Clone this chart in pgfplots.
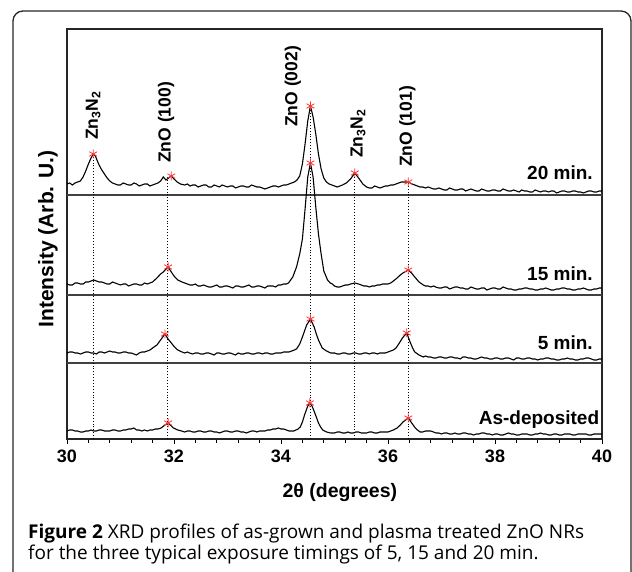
\documentclass[border=0pt]{standalone}
\usepackage{fontspec}
\setmainfont{Liberation Sans}
\newfontfamily\capfont{Open Sans}
\usepackage{pgfplots}
\pgfplotsset{compat=1.18}
\begin{document}
\begin{tikzpicture}
\useasboundingbox (0pt,0pt) rectangle (632pt,572pt);
\draw[rounded corners=10pt, line width=1.3pt, black!85] (13pt,-20pt) rectangle (631pt,561pt);
\begin{axis}[
  at={(67pt,133pt)}, anchor=south west,
  scale only axis, width=535pt, height=410pt,
  xmin=30, xmax=40, ymin=0, ymax=410,
  axis line style={line width=1.3pt, black!85},
  xtick={30,32,34,36,38,40}, minor x tick num=4,
  ytick=\empty,
  xtick pos=bottom, tick align=outside,
  major tick length=5pt, minor tick length=4pt,
  every tick/.style={black, line width=1pt},
  xticklabel style={font=\fontsize{18}{18}\selectfont\bfseries, yshift=-2pt},
  /pgf/number format/assume math mode=true,
  xlabel={2θ (degrees)},
  xlabel style={font=\fontsize{19.5}{20}\selectfont\bfseries, at={(axis description cs:0.51,-0.1317)}, anchor=center},
  ylabel={Intensity (Arb. U.)},
  ylabel style={font=\fontsize{21}{21}\selectfont\bfseries, at={(axis description cs:-0.0355,0.488)}, anchor=center},
  clip=false,
]
% panel dividers
\addplot[line width=1.8pt, black!75, forget plot] coordinates {(30,244) (40,244)};
\addplot[line width=1.8pt, black!75, forget plot] coordinates {(30,144) (40,144)};
\addplot[line width=1.8pt, black!75, forget plot] coordinates {(30,76) (40,76)};
% dotted reference lines
\addplot[dotted, line width=0.9pt, black] coordinates {(30.5,0) (30.5,285)};
\addplot[dotted, line width=0.9pt, black] coordinates {(31.88,0) (31.88,263)};
\addplot[dotted, line width=0.9pt, black] coordinates {(34.55,0) (34.55,333)};
\addplot[dotted, line width=0.9pt, black] coordinates {(35.38,0) (35.38,266)};
\addplot[dotted, line width=0.9pt, black] coordinates {(36.38,0) (36.38,257)};
% 20 min
\addplot[black, line width=1.1pt] coordinates {
(30.0,255)(30.05,256)(30.1,254)(30.15,256)(30.2,257)(30.25,258)(30.3,262)(30.35,268)(30.4,275)(30.45,281)(30.49,285)(30.53,283)(30.56,279)(30.6,274)(30.65,269)(30.7,265)(30.75,261)(30.8,258)(30.85,256)(30.9,255)(30.95,254)(31.0,254)(31.05,256)(31.1,255)(31.15,254)(31.2,254)(31.25,256)(31.3,255)(31.35,253)(31.4,254)(31.45,255)(31.5,255)(31.55,253)(31.6,254)(31.65,255)(31.7,256)(31.75,258)(31.8,262)(31.85,259)(31.9,261)(31.95,263)(32.0,260)(32.06,257)(32.12,255)(32.2,254)(32.25,255)(32.3,253)(32.35,254)(32.4,254)(32.45,252)(32.5,253)(32.55,254)(32.6,254)(32.65,252)(32.7,252)(32.75,254)(32.8,253)(32.85,252)(32.9,254)(32.95,253)(33.0,252)(33.05,253)(33.1,253)(33.15,251)(33.2,252)(33.25,253)(33.3,253)(33.35,252)(33.4,252)(33.45,254)(33.5,253)(33.55,252)(33.6,252)(33.65,251)(33.7,250)(33.75,251)(33.8,252)(33.85,253)(33.9,253)(33.95,252)(34.0,253)(34.05,254)(34.1,254)(34.15,255)(34.2,256)(34.25,257)(34.3,259)(34.35,263)(34.4,275)(34.45,295)(34.5,318)(34.55,333)(34.6,322)(34.65,305)(34.7,285)(34.75,270)(34.8,261)(34.85,257)(34.9,255)(34.95,254)(35.0,253)(35.05,252)(35.1,253)(35.15,254)(35.22,256)(35.3,260)(35.38,266)(35.45,261)(35.53,255)(35.6,252)(35.65,251)(35.7,251)(35.75,253)(35.8,252)(35.85,251)(35.9,252)(35.95,253)(36.0,253)(36.05,254)(36.1,254)(36.15,255)(36.2,256)(36.25,257)(36.3,257)(36.38,257)(36.45,255)(36.5,254)(36.55,253)(36.6,252)(36.65,252)(36.7,251)(36.75,252)(36.8,251)(36.85,250)(36.9,250)(36.95,251)(37.0,250)(37.05,249)(37.1,249)(37.15,251)(37.2,250)(37.25,249)(37.3,249)(37.35,250)(37.4,250)(37.45,248)(37.5,249)(37.55,250)(37.6,249)(37.65,248)(37.7,248)(37.75,250)(37.8,249)(37.85,248)(37.9,248)(37.95,249)(38.0,249)(38.05,248)(38.1,248)(38.15,250)(38.2,249)(38.25,248)(38.3,248)(38.35,249)(38.4,248)(38.45,247)(38.5,249)(38.55,248)(38.6,248)(38.65,247)(38.7,247)(38.75,249)(38.8,248)(38.85,247)(38.9,248)(38.95,248)(39.0,247)(39.05,248)(39.1,248)(39.15,246)(39.2,247)(39.25,248)(39.3,248)(39.35,247)(39.4,247)(39.45,248)(39.5,248)(39.55,247)(39.6,247)(39.65,246)(39.7,247)(39.75,248)(39.8,248)(39.85,247)(39.9,247)(39.95,248)(40.0,248)
};
% 15 min
\addplot[black, line width=1.1pt] coordinates {
(30.0,155)(30.05,154)(30.1,154)(30.15,156)(30.2,156)(30.25,155)(30.3,155)(30.35,157)(30.4,157)(30.45,158)(30.5,159)(30.55,158)(30.6,157)(30.65,157)(30.7,156)(30.75,155)(30.8,155)(30.85,157)(30.9,156)(30.95,155)(31.0,154)(31.05,155)(31.1,155)(31.15,153)(31.2,154)(31.25,155)(31.3,155)(31.35,154)(31.4,154)(31.45,156)(31.5,155)(31.55,156)(31.6,157)(31.68,161)(31.75,165)(31.8,167)(31.85,170)(31.89,172)(31.95,167)(32.0,163)(32.07,159)(32.15,157)(32.2,156)(32.25,155)(32.3,154)(32.35,154)(32.4,155)(32.45,153)(32.5,153)(32.55,154)(32.6,153)(32.65,152)(32.7,152)(32.75,153)(32.8,154)(32.85,152)(32.9,152)(32.95,153)(33.0,153)(33.05,152)(33.1,151)(33.15,153)(33.2,153)(33.25,152)(33.3,152)(33.35,153)(33.4,154)(33.45,152)(33.5,152)(33.55,153)(33.6,153)(33.65,152)(33.7,151)(33.75,153)(33.8,153)(33.85,153)(33.9,152)(33.95,154)(34.0,154)(34.05,155)(34.1,155)(34.14,156)(34.22,162)(34.29,172)(34.35,185)(34.4,200)(34.45,230)(34.5,262)(34.55,276)(34.6,262)(34.65,232)(34.7,205)(34.75,185)(34.8,168)(34.87,159)(34.92,156)(34.96,155)(35.0,153)(35.05,152)(35.1,152)(35.15,153)(35.2,154)(35.25,154)(35.3,155)(35.38,156)(35.45,155)(35.5,154)(35.55,153)(35.6,153)(35.65,152)(35.7,153)(35.75,153)(35.8,154)(35.85,154)(35.9,155)(35.95,155)(36.0,155)(36.05,156)(36.1,158)(36.17,161)(36.23,164)(36.28,166)(36.38,169)(36.44,166)(36.5,162)(36.58,157)(36.66,154)(36.7,153)(36.75,153)(36.8,152)(36.85,153)(36.89,152)(36.95,151)(37.0,151)(37.05,152)(37.1,152)(37.15,150)(37.2,151)(37.25,152)(37.3,152)(37.35,151)(37.4,151)(37.45,150)(37.5,150)(37.55,152)(37.6,151)(37.65,150)(37.7,150)(37.75,151)(37.8,151)(37.85,149)(37.9,150)(37.95,151)(38.0,151)(38.05,150)(38.1,150)(38.15,152)(38.2,151)(38.25,150)(38.3,150)(38.35,149)(38.4,149)(38.45,150)(38.5,150)(38.55,151)(38.6,151)(38.65,150)(38.7,150)(38.75,149)(38.8,149)(38.85,150)(38.9,150)(38.95,151)(39.0,150)(39.05,149)(39.1,149)(39.15,150)(39.2,150)(39.25,151)(39.3,151)(39.35,150)(39.4,150)(39.45,149)(39.5,149)(39.55,150)(39.6,150)(39.65,151)(39.7,150)(39.75,149)(39.8,149)(39.85,150)(39.9,150)(39.95,151)(40.0,151)
};
% 5 min
\addplot[black, line width=1.1pt] coordinates {
(30.0,86)(30.05,87)(30.1,87)(30.15,86)(30.2,86)(30.25,85)(30.3,86)(30.35,87)(30.4,87)(30.45,86)(30.5,86)(30.55,85)(30.6,87)(30.65,87)(30.7,86)(30.75,87)(30.8,88)(30.85,87)(30.9,87)(30.95,86)(31.0,86)(31.05,87)(31.1,87)(31.15,86)(31.2,86)(31.25,85)(31.3,84)(31.35,86)(31.4,87)(31.45,87)(31.5,88)(31.55,89)(31.6,91)(31.68,94)(31.75,99)(31.83,105)(31.89,100)(31.95,96)(32.01,92)(32.07,89)(32.15,87)(32.2,86)(32.25,87)(32.29,86)(32.35,85)(32.4,86)(32.45,86)(32.5,85)(32.55,85)(32.6,86)(32.65,86)(32.7,85)(32.75,84)(32.8,86)(32.85,86)(32.9,85)(32.95,85)(33.0,86)(33.05,86)(33.1,85)(33.15,84)(33.2,86)(33.25,85)(33.3,85)(33.35,86)(33.4,86)(33.45,85)(33.5,85)(33.55,86)(33.6,86)(33.65,85)(33.7,86)(33.75,86)(33.8,85)(33.85,85)(33.9,86)(33.95,86)(34.0,86)(34.05,87)(34.1,87)(34.15,87)(34.2,88)(34.25,89)(34.29,90)(34.35,95)(34.4,102)(34.44,108)(34.48,114)(34.55,120)(34.62,112)(34.66,105)(34.7,99)(34.77,91)(34.85,88)(34.93,86)(35.0,86)(35.05,85)(35.1,85)(35.15,86)(35.2,86)(35.25,85)(35.3,85)(35.35,86)(35.4,86)(35.45,85)(35.5,85)(35.55,86)(35.6,86)(35.65,85)(35.7,86)(35.75,86)(35.8,85)(35.85,86)(35.9,86)(35.95,86)(36.0,87)(36.05,88)(36.1,89)(36.15,91)(36.2,95)(36.27,101)(36.35,106)(36.42,96)(36.46,91)(36.5,87)(36.58,84)(36.66,82)(36.7,83)(36.75,82)(36.8,82)(36.85,81)(36.9,81)(36.95,82)(37.0,82)(37.05,81)(37.1,81)(37.15,82)(37.2,82)(37.25,81)(37.3,81)(37.35,80)(37.4,82)(37.45,82)(37.5,81)(37.55,81)(37.6,80)(37.65,80)(37.7,81)(37.75,82)(37.8,81)(37.85,81)(37.9,80)(37.95,80)(38.0,81)(38.05,81)(38.1,80)(38.15,80)(38.2,81)(38.25,81)(38.3,80)(38.35,79)(38.4,81)(38.45,81)(38.5,80)(38.55,80)(38.6,81)(38.65,81)(38.7,80)(38.75,80)(38.8,79)(38.85,80)(38.9,80)(38.95,81)(39.0,81)(39.05,80)(39.1,80)(39.15,79)(39.2,79)(39.25,80)(39.3,80)(39.35,81)(39.4,80)(39.45,80)(39.5,79)(39.55,79)(39.6,80)(39.65,80)(39.7,81)(39.75,81)(39.8,80)(39.85,79)(39.9,79)(39.95,80)(40.0,80)
};
% As-deposited
\addplot[black, line width=1.1pt] coordinates {
(30.0,8)(30.05,9)(30.1,9)(30.15,8)(30.2,8)(30.25,7)(30.3,7)(30.35,8)(30.4,8)(30.45,9)(30.5,8)(30.55,8)(30.6,9)(30.65,9)(30.7,8)(30.75,8)(30.8,8)(30.85,9)(30.9,9)(30.95,8)(31.0,8)(31.05,9)(31.1,9)(31.15,10)(31.2,10)(31.25,11)(31.3,9)(31.35,9)(31.4,8)(31.45,9)(31.5,8)(31.55,9)(31.6,9)(31.65,10)(31.7,10)(31.76,11)(31.83,14)(31.89,16)(31.95,13)(31.99,11)(32.03,10)(32.07,9)(32.14,8)(32.2,7)(32.25,8)(32.3,8)(32.35,7)(32.4,7)(32.45,8)(32.5,8)(32.55,7)(32.6,7)(32.65,8)(32.7,8)(32.75,7)(32.8,7)(32.85,6)(32.9,7)(32.95,8)(33.0,8)(33.05,7)(33.1,7)(33.15,8)(33.2,8)(33.25,7)(33.3,7)(33.35,6)(33.4,7)(33.45,8)(33.5,8)(33.55,7)(33.6,8)(33.65,8)(33.7,8)(33.75,9)(33.8,9)(33.85,10)(33.9,10)(33.95,11)(34.0,10)(34.05,10)(34.1,9)(34.15,8)(34.2,8)(34.24,8)(34.28,9)(34.32,10)(34.36,12)(34.4,17)(34.44,24)(34.5,33)(34.54,36)(34.58,33)(34.61,29)(34.66,22)(34.7,16)(34.74,12)(34.78,9)(34.85,7)(34.93,6)(35.0,6)(35.05,7)(35.1,7)(35.15,6)(35.2,6)(35.25,7)(35.3,6)(35.35,6)(35.4,7)(35.45,7)(35.5,6)(35.55,6)(35.6,6)(35.65,7)(35.7,7)(35.75,6)(35.8,6)(35.85,7)(35.9,7)(35.95,7)(36.0,7)(36.05,8)(36.1,9)(36.17,11)(36.23,14)(36.28,17)(36.38,21)(36.43,17)(36.47,14)(36.51,11)(36.55,9)(36.6,7)(36.65,7)(36.7,8)(36.75,8)(36.8,8)(36.85,7)(36.9,6)(36.95,6)(37.0,5)(37.05,6)(37.1,6)(37.15,5)(37.2,5)(37.25,6)(37.3,5)(37.35,5)(37.4,6)(37.45,6)(37.5,5)(37.55,5)(37.6,4)(37.65,5)(37.7,5)(37.75,6)(37.8,6)(37.85,5)(37.9,5)(37.95,4)(38.0,5)(38.05,5)(38.1,4)(38.15,4)(38.2,5)(38.25,6)(38.3,5)(38.35,5)(38.4,4)(38.45,4)(38.5,5)(38.55,5)(38.6,5)(38.65,4)(38.7,4)(38.75,5)(38.8,5)(38.85,6)(38.9,5)(38.95,5)(39.0,4)(39.05,4)(39.1,5)(39.15,5)(39.2,4)(39.25,4)(39.3,5)(39.35,5)(39.4,5)(39.45,4)(39.5,4)(39.55,5)(39.6,5)(39.65,5)(39.7,5)(39.75,4)(39.8,4)(39.85,5)(39.9,5)(39.95,5)(40.0,5)
};
% peak markers
\addplot[only marks, mark=asterisk, mark size=4.5pt, red!80, mark options={line width=0.8pt}] coordinates {
(30.49,285)(31.95,263)(34.55,333)(35.38,266)(36.38,257)
(31.89,172)(34.55,276)(36.38,169)
(31.83,105)(34.55,120)(36.35,106)
(31.89,16)(34.54,36)(36.38,21)
};
% peak labels
\begin{scope}[every node/.style={font=\fontsize{17.5}{18}\selectfont\bfseries, rotate=90, anchor=west, inner sep=0pt}]
\node at (axis cs:30.49,299) {Zn\textsubscript{3}N\textsubscript{2}};
\node at (axis cs:31.85,276) {ZnO (100)};
\node at (axis cs:34.22,312) {ZnO (002)};
\node at (axis cs:35.44,281) {Zn\textsubscript{3}N\textsubscript{2}};
\node at (axis cs:36.36,272) {ZnO (101)};
\end{scope}
% panel labels
\begin{scope}[every node/.style={font=\fontsize{19}{19}\selectfont\bfseries, anchor=east, inner sep=0pt}]
\node at (axis cs:39.83,266) {20 min.};
\node at (axis cs:39.83,165) {15 min.};
\node at (axis cs:39.83,96) {5 min.};
\node at (axis cs:39.95,19) {As-deposited};
\end{scope}
\end{axis}
% caption
\node[anchor=base west, inner sep=0pt, font=\capfont\fontsize{19}{19}\selectfont] at (28pt,33pt) {\textbf{Figure 2} XRD profiles of as-grown and plasma treated ZnO NRs};
\node[anchor=base west, inner sep=0pt, font=\capfont\fontsize{19}{19}\selectfont] at (28pt,12pt) {for the three typical exposure timings of 5, 15 and 20 min.};
\end{tikzpicture}
\end{document}
